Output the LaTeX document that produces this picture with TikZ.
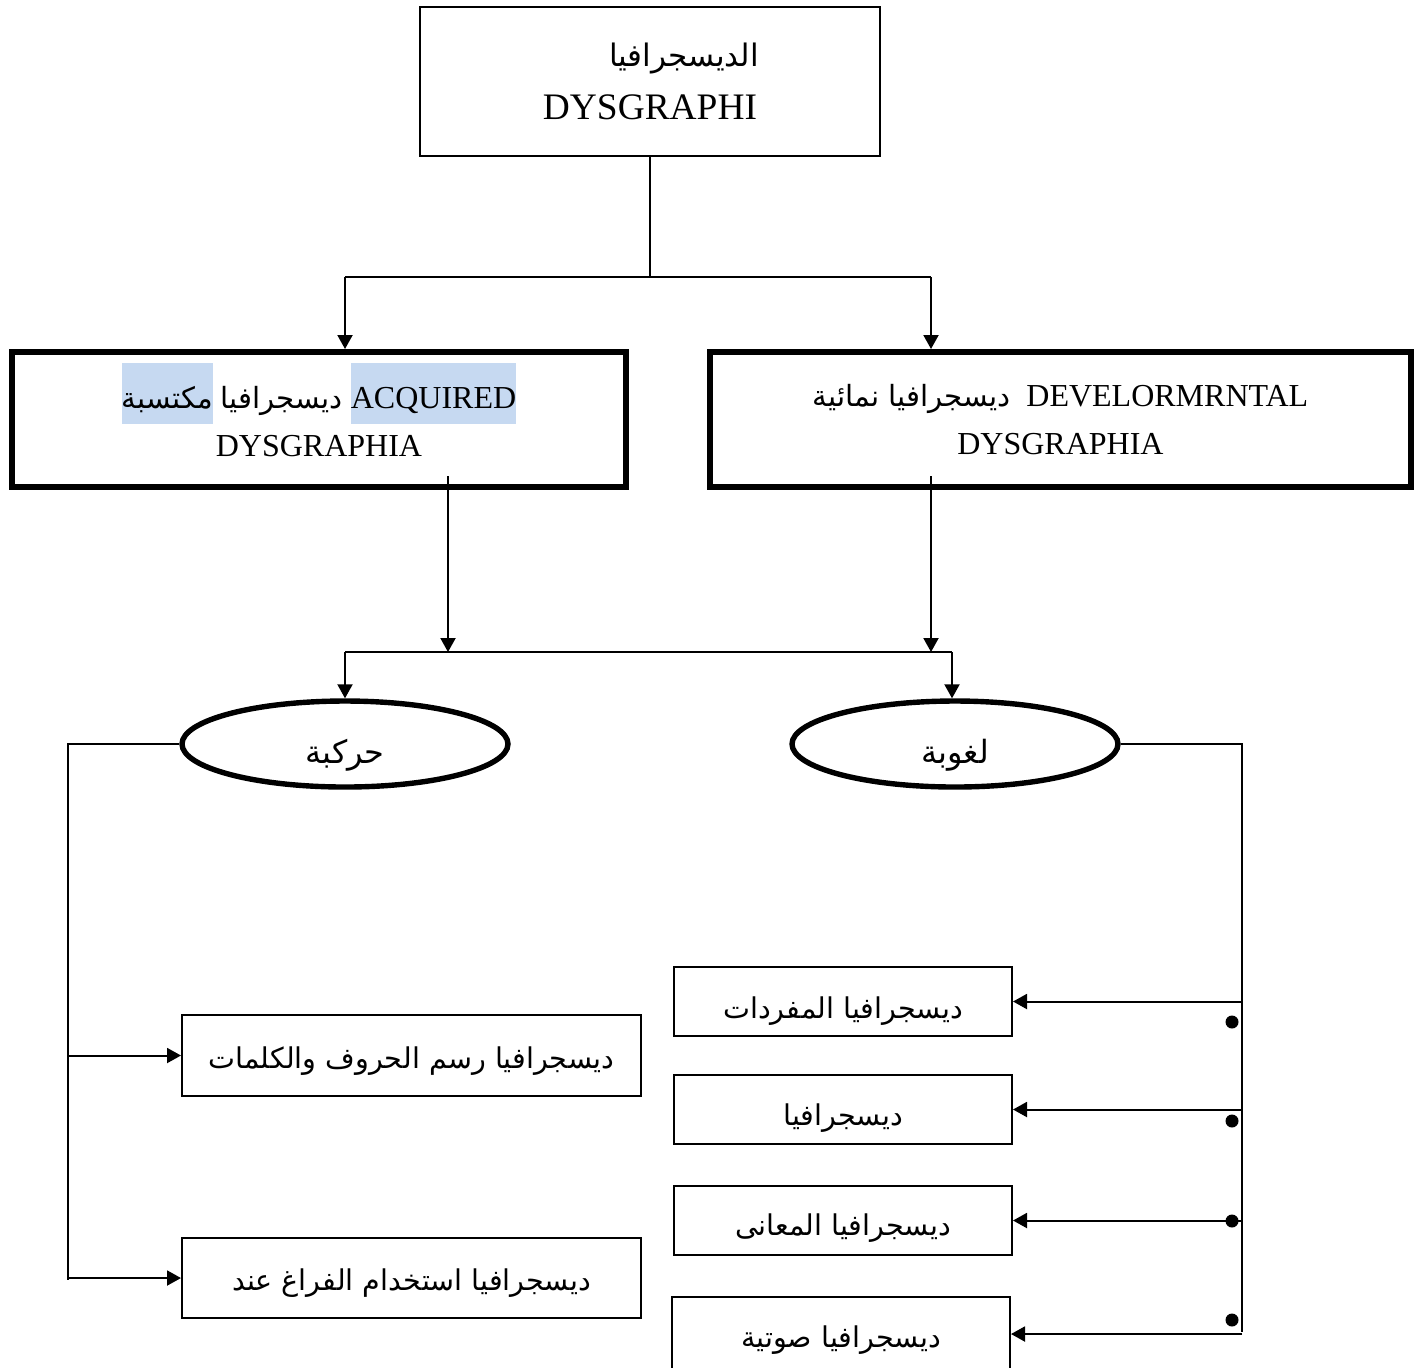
\documentclass[tikz,border=0pt]{standalone}
\usepackage{fontspec}
\setmainfont{Liberation Serif}
\newfontfamily\arabicfont[Script=Arabic]{DejaVu Sans}
\TeXXeTstate=1
\usetikzlibrary{arrows.meta, shapes.geometric}
\definecolor{hlblue}{HTML}{C6D9F1}
\newcommand\arab[2][14.3]{{\arabicfont\fontsize{#1}{24}\selectfont\beginR #2\endR}}
\newcommand\hilite[1]{{\setlength{\fboxsep}{0pt}\colorbox{hlblue}{\rule[-7.5pt]{0pt}{30.5pt}#1}}}

\begin{document}
\begin{tikzpicture}[x=0.5pt, y=-0.5pt, >={Triangle[length=7pt,width=7.5pt]},
  thinbox/.style={draw, line width=1pt, inner sep=0pt, align=center},
  thickbox/.style={draw, line width=3pt, inner sep=0pt, align=center,
    font=\fontsize{16}{24}\selectfont},
  oval/.style={ellipse, draw, line width=2.7pt, inner sep=0pt,
    minimum width=163pt, minimum height=43pt, text height=19pt, text depth=0pt},
  link/.style={line width=1pt},
  dot/.style={circle, fill, inner sep=0pt, minimum size=6.5pt}]

  \useasboundingbox (0,0) rectangle (1422,1367);

  % head and the two kinds
  \node[thinbox, minimum width=230pt, minimum height=74.5pt,
    font=\fontsize{18.7}{26.5}\selectfont] (top) at (650,81.5)
    {\hspace*{34pt}\arab[15.5]{الديسجرافيا}\\ DYSGRAPHI};
  \node[thickbox, minimum width=307pt, minimum height=67.5pt] (acq) at (319,419.5)
    {\hilite{\arab[14.6]{مكتسبة}} \arab[14.6]{ديسجرافيا} \hilite{ACQUIRED}\\
     DYSGRAPHIA\rule[-10pt]{0pt}{10pt}};
  \node[thickbox, minimum width=350.5pt, minimum height=67.5pt] (dev) at (1060.5,419.5)
    {\arab[14.6]{ديسجرافيا نمائية}\ \ DEVELORMRNTAL\\ DYSGRAPHIA};

  % motor and linguistic
  \node[oval] (motor) at (345,744) {\arab[16]{حركبة}};
  \node[oval] (ling) at (955,744) {\arab[16]{لغوبة}};

  % motor subtypes
  \node[thinbox, minimum width=229.5pt, minimum height=40.5pt,
    text height=12.5pt, text depth=0pt] (letters) at (411.5,1055.5)
    {\arab{ديسجرافيا رسم الحروف والكلمات}};
  \node[thinbox, minimum width=229.5pt, minimum height=40pt,
    text height=12pt, text depth=0pt] (spacing) at (411.5,1278)
    {\arab{ديسجرافيا استخدام الفراغ عند}};

  % linguistic subtypes
  \node[thinbox, minimum width=169pt, minimum height=34.5pt,
    text height=17pt, text depth=0pt] (vocab) at (843,1001.5)
    {\arab{ديسجرافيا المفردات}};
  \node[thinbox, minimum width=169pt, minimum height=34.5pt,
    text height=16pt, text depth=0pt] (plain) at (843,1109.5)
    {\arab{ديسجرافيا}};
  \node[thinbox, minimum width=169pt, minimum height=34.5pt,
    text height=14.5pt, text depth=0pt] (meaning) at (843,1220.5)
    {\arab{ديسجرافيا المعانى}};
  \node[thinbox, minimum width=169pt, minimum height=37.5pt,
    text height=13pt, text depth=0pt] (phonetic) at (841,1334)
    {\arab{ديسجرافيا صوتية}};

  % first split
  \coordinate (j0) at (650,277);
  \coordinate (jl) at (345,277);
  \coordinate (jr) at (931,277);
  \draw[link] (top.south) -- (j0);
  \draw[link] (jl) -- (jr);
  \draw[link,->] (jl) -- (jl |- acq.north);
  \draw[link,->] (jr) -- (jr |- dev.north);

  % second split
  \coordinate (ml) at (448,652);
  \coordinate (mr) at (931,652);
  \coordinate (bl) at (345,652);
  \coordinate (br) at (952,652);
  \draw[link,->] ([yshift=7pt]acq.south -| ml) -- (ml);
  \draw[link,->] ([yshift=7pt]dev.south -| mr) -- (mr);
  \draw[link] (bl) -- (br);
  \draw[link,->] (bl) -- (motor.north);
  \draw[link,->] (br) -- (br |- ling.north);

  % side trunks
  \coordinate (lv) at (68,1280);
  \coordinate (rv) at (1242,1332);
  \draw[link] (motor.west) -| (lv);
  \draw[link,->] (lv |- letters.west) -- (letters.west);
  \draw[link,->] (lv |- spacing.west) -- (spacing.west);
  \draw[link] (ling.east) -| (rv);
  \foreach \b in {vocab, plain, meaning, phonetic}
    \draw[link,->] (rv |- \b.east) -- (\b.east);
  \foreach \y [count=\i] in {1022,1121,1221,1320}
    \node[dot] (dot\i) at (1232,\y) {};
\end{tikzpicture}
\end{document}
